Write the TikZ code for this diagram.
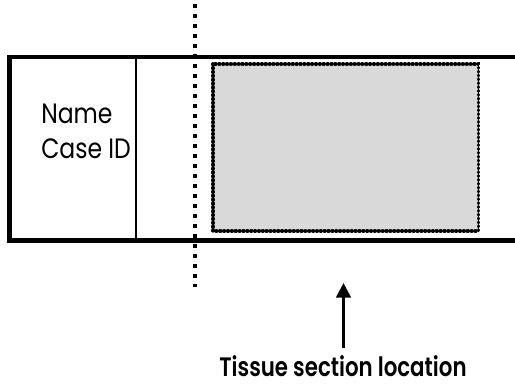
\documentclass[tikz,border=0pt]{standalone}
\usepackage{fontspec}
\setmainfont{Poppins}[BoldFont={Poppins SemiBold}]
\usetikzlibrary{arrows.meta}
\definecolor{tissue}{HTML}{D9D9D9}
\tikzset{
  slideedge/.style={line width=3.6pt, line cap=rect},
  divider/.style={line width=1.2pt},
  cutline/.style={line width=3pt, dash pattern=on 3pt off 4.5pt},
  tissuebox/.style={fill=tissue, line width=2.8pt, line cap=round, dash pattern=on 0.4pt off 2.5pt},
  labeltext/.style={inner sep=0pt, anchor=base west, font=\fontsize{21}{26}\selectfont},
  pointer/.style={line width=2pt, -{Triangle[length=11pt,width=11pt]}},
  caption/.style={inner sep=0pt, anchor=base, font=\fontsize{20}{24}\selectfont\bfseries}
}
\begin{document}
\begin{tikzpicture}[x=0.75pt,y=-0.75pt]
\useasboundingbox (0,0) rectangle (515,383);
% slide outline
\coordinate (tl) at (9.5,57);
\coordinate (bl) at (9.5,240.5);
\coordinate (tr) at (517,57);
\coordinate (br) at (517,240.5);
\draw[slideedge] (tr) -- (tl) -- (bl) -- (br);
\coordinate (dt) at (136,57);
\coordinate (db) at (136,240.5);
\draw[divider] (dt) -- (db);
% tissue region
\draw[tissuebox] (213,64) rectangle (478.5,231);
% cut line
\coordinate (ct) at (195,4);
\coordinate (cb) at (195,287);
\draw[cutline] (ct) -- (cb);
% labels
\node[labeltext] (name) at (41,123.3) {\scalebox{0.84}[1]{Name}};
\node[labeltext] (caseid) at (41,158.3) {\scalebox{0.84}[1]{Case ID}};
\node[caption] (cap) at (343,376) {\scalebox{0.8}[1]{Tissue section location}};
\coordinate (arrowtop) at (343.5,283);
\coordinate (arrowbot) at (343.5,348);
\draw[pointer] (arrowbot) -- (arrowtop);
\end{tikzpicture}
\end{document}
